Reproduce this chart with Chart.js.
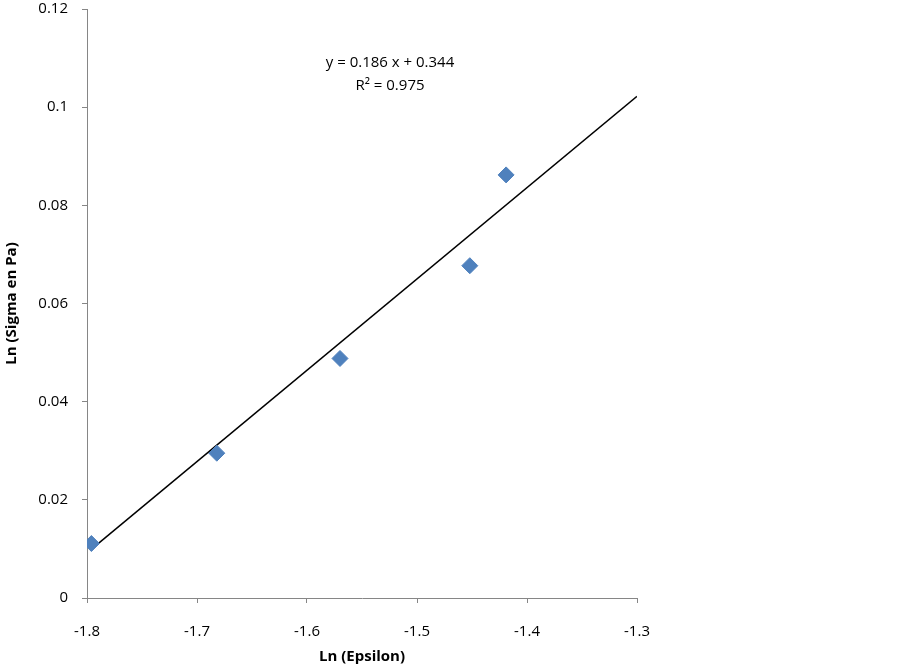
<!DOCTYPE html>
<html>
<head>
<meta charset="utf-8">
<script src="https://cdn.jsdelivr.net/npm/chart.js@4"></script>
<style>
  html, body { margin: 0; padding: 0; background: #fff; }
  #wrap { width: 900px; height: 668px; }
</style>
</head>
<body>
<div id="wrap"><canvas id="lnChart" width="900" height="668"></canvas></div>
<script>
// measured points (Ln epsilon, Ln sigma)
const lnEpsilon = [-1.796, -1.682, -1.570, -1.452, -1.419];
const lnSigma = [0.0111, 0.0295, 0.0488, 0.0677, 0.0862];

// linear trend from the sheet
const trendSlope = 0.186;
const trendIntercept = 0.344;
const trendRange = [-1.797, -1.3];
const trendLabel = ['y = 0.186 x + 0.344', 'R² = 0.975'];

const xTicks = [-1.8, -1.7, -1.6, -1.5, -1.4, -1.3];
const yTicks = [0, 0.02, 0.04, 0.06, 0.08, 0.1, 0.12];

const FONT = "'Open Sans', 'Liberation Sans', sans-serif";
const AXIS_GREY = '#868686';

const equationText = {
    id: 'equationText',
    afterDatasetsDraw(chart) {
        const ctx = chart.ctx;
        ctx.save();
        ctx.font = '15px ' + FONT;
        ctx.fillStyle = '#000';
        ctx.textAlign = 'center';
        ctx.textBaseline = 'middle';
        ctx.fillText(trendLabel[0], 390, 63);
        ctx.fillText(trendLabel[1], 390, 86);
        ctx.restore();
    }
};

new Chart(document.getElementById('lnChart'), {
    type: 'scatter',
    data: {
        datasets: [{
            label: 'Ln sigma',
            data: lnEpsilon.map((x, i) => ({ x: x, y: lnSigma[i] })),
            pointStyle: 'rectRot',
            pointRadius: 8,
            pointHoverRadius: 8,
            backgroundColor: '#4F81BD',
            borderColor: '#4F81BD',
            borderWidth: 1,
            order: 1
        }, {
            label: 'Linear',
            type: 'line',
            data: trendRange.map(x => ({ x: x, y: trendSlope * x + trendIntercept })),
            borderColor: '#000',
            borderWidth: 1.5,
            pointRadius: 0,
            fill: false,
            order: 2
        }]
    },
    options: {
        responsive: false,
        animation: false,
        events: [],
        layout: { padding: { top: 0, right: 263, left: 0, bottom: 0 } },
        plugins: {
            legend: { display: false },
            tooltip: { enabled: false }
        },
        scales: {
            x: {
                type: 'linear',
                min: -1.8,
                max: -1.3,
                afterBuildTicks: s => { s.ticks = xTicks.map(v => ({ value: v })); },
                afterFit: s => { s.height = 70; },
                grid: { drawOnChartArea: false, drawTicks: true, tickLength: 5, color: AXIS_GREY },
                border: { color: AXIS_GREY, width: 1 },
                ticks: {
                    color: '#000',
                    padding: 20,
                    maxRotation: 0,
                    font: { family: FONT, size: 15 },
                    callback: v => String(Math.round(v * 10) / 10)
                },
                title: {
                    display: true,
                    text: 'Ln (Epsilon)',
                    color: '#000',
                    padding: { top: 0, bottom: 2 },
                    font: { family: FONT, size: 15, weight: 'bold' }
                }
            },
            y: {
                type: 'linear',
                min: 0,
                max: 0.12,
                afterBuildTicks: s => { s.ticks = yTicks.map(v => ({ value: v })); },
                afterFit: s => { s.width = 87; s.paddingTop = 0; },
                grid: { drawOnChartArea: false, drawTicks: true, tickLength: 5, color: AXIS_GREY },
                border: { color: AXIS_GREY, width: 1 },
                ticks: {
                    color: '#000',
                    padding: 14,
                    font: { family: FONT, size: 15 },
                    callback: v => String(Math.round(v * 100) / 100)
                },
                title: {
                    display: true,
                    text: 'Ln (Sigma en Pa)',
                    color: '#000',
                    padding: { top: 3, bottom: 0 },
                    font: { family: FONT, size: 15, weight: 'bold' }
                }
            }
        }
    },
    plugins: [equationText]
});
</script>
</body>
</html>
